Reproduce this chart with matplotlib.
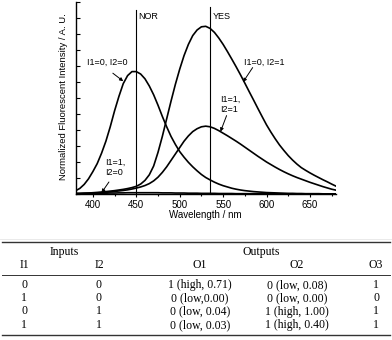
import numpy as np
import matplotlib
matplotlib.use('Agg')
import matplotlib.pyplot as plt
from matplotlib.lines import Line2D
from matplotlib.ticker import MultipleLocator

############################ DATA #########################################
wavelength = list(range(380, 685, 5))
# I1=0, I2=0
curve_00 = [0.020, 0.035, 0.060, 0.095, 0.140, 0.190, 0.255, 0.330, 0.420, 0.520, 0.610, 0.690,
            0.740, 0.765, 0.765, 0.750, 0.720, 0.675, 0.620, 0.555, 0.485, 0.420, 0.360, 0.310,
            0.265, 0.230, 0.198, 0.170, 0.145, 0.122, 0.103, 0.088, 0.074, 0.062, 0.052, 0.044,
            0.036, 0.030, 0.025, 0.021, 0.018, 0.015, 0.013, 0.011, 0.009, 0.008, 0.007, 0.006,
            0.005, 0.004, 0.004, 0.003, 0.003, 0.002, 0.002, 0.002, 0.002, 0.001, 0.001, 0.001,
            0.001]
# I1=0, I2=1
curve_01 = [0.003, 0.004, 0.005, 0.006, 0.008, 0.010, 0.012, 0.015, 0.018, 0.021, 0.025, 0.029,
            0.034, 0.040, 0.048, 0.062, 0.085, 0.120, 0.175, 0.260, 0.360, 0.470, 0.580, 0.685,
            0.780, 0.865, 0.935, 0.990, 1.025, 1.045, 1.048, 1.035, 1.010, 0.975, 0.935, 0.890,
            0.843, 0.795, 0.745, 0.693, 0.640, 0.588, 0.535, 0.483, 0.432, 0.387, 0.345, 0.306,
            0.272, 0.240, 0.212, 0.187, 0.165, 0.148, 0.132, 0.117, 0.103, 0.089, 0.076, 0.062,
            0.049]
# I1=1, I2=1
curve_11 = [0.003, 0.003, 0.004, 0.005, 0.006, 0.007, 0.009, 0.011, 0.013, 0.016, 0.019, 0.022,
            0.026, 0.031, 0.037, 0.044, 0.053, 0.065, 0.082, 0.105, 0.135, 0.170, 0.210, 0.250,
            0.290, 0.330, 0.363, 0.390, 0.408, 0.420, 0.424, 0.420, 0.410, 0.396, 0.380, 0.364,
            0.347, 0.330, 0.312, 0.293, 0.274, 0.255, 0.236, 0.218, 0.200, 0.184, 0.168, 0.153,
            0.139, 0.126, 0.114, 0.103, 0.093, 0.083, 0.073, 0.064, 0.055, 0.046, 0.038, 0.030,
            0.024]
# I1=1, I2=0
curve_10 = [0.002, 0.002, 0.003, 0.003, 0.004, 0.004, 0.005, 0.005, 0.006, 0.006, 0.007, 0.007,
            0.008, 0.008, 0.008, 0.008, 0.008, 0.008, 0.008, 0.008, 0.007, 0.007, 0.007, 0.006,
            0.006, 0.006, 0.005, 0.005, 0.005, 0.004, 0.004, 0.004, 0.004, 0.003, 0.003, 0.003,
            0.003, 0.002, 0.002, 0.002, 0.002, 0.002, 0.002, 0.002, 0.002, 0.001, 0.001, 0.001,
            0.001, 0.001, 0.001, 0.001, 0.001, 0.001, 0.001, 0.001, 0.001, 0.001, 0.001, 0.001,
            0.001]

nor_wl = 450
yes_wl = 535

col_heads = ['I1', 'I2', 'O1', 'O2', 'O3']
table_rows = [['0', '0', '1 (high, 0.71)', '0 (low, 0.08)', '1'],
              ['1', '0', '0 (low,0.00)', '0 (low, 0.00)', '0'],
              ['0', '1', '0 (low, 0.04)', '1 (high, 1.00)', '1'],
              ['1', '1', '0 (low, 0.03)', '1 (high, 0.40)', '1']]
############################ DATA #########################################

W, H = 392, 340
fig = plt.figure(figsize=(W / 100, H / 100), dpi=100)
sans = 'Liberation Sans'
serif = 'Liberation Serif'
fs = 6.5

ax = fig.add_axes([75.5 / W, 1 - 194 / H, 260.5 / W, 192 / H])
for c in [curve_00, curve_01, curve_11, curve_10]:
    ax.plot(wavelength, c, color='k', lw=1.2, solid_joinstyle='round')

ax.plot([nor_wl, nor_wl], [0, 1.15], color='k', lw=0.8)
ax.plot([yes_wl, yes_wl], [0, 1.17], color='k', lw=0.8)
ax.text(452.5, 1.11, 'NOR', fontsize=fs, family=sans, va='center', ha='left')
ax.text(537.5, 1.11, 'YES', fontsize=fs, family=sans, va='center', ha='left')

arw = dict(arrowstyle='-|>', color='k', lw=0.7, mutation_scale=5, shrinkA=0, shrinkB=0)
ax.text(416, 0.825, 'I1=0, I2=0', fontsize=fs, family=sans, ha='center', va='center')
ax.annotate('', xy=(435, 0.705), xytext=(423, 0.755), arrowprops=arw)
ax.text(414.3, 0.166, 'I1=1,\nI2=0', fontsize=fs, family=sans, ha='left', va='center',
        linespacing=1.25)
ax.annotate('', xy=(410, 0.008), xytext=(418.5, 0.075), arrowprops=arw)
ax.text(597, 0.825, 'I1=0, I2=1', fontsize=fs, family=sans, ha='center', va='center')
ax.annotate('', xy=(573, 0.70), xytext=(584, 0.79), arrowprops=arw)
ax.text(547, 0.56, 'I1=1,\nI2=1', fontsize=fs, family=sans, ha='left', va='center',
        linespacing=1.25)
ax.annotate('', xy=(547, 0.39), xytext=(554, 0.49), arrowprops=arw)

ax.set_xlim(380, 680)
ax.set_ylim(0, 1.2)
ax.spines['top'].set_visible(False)
ax.spines['right'].set_visible(False)
for s in ['left', 'bottom']:
    ax.spines[s].set_linewidth(1.0)
ax.xaxis.set_major_locator(MultipleLocator(50))
ax.xaxis.set_minor_locator(MultipleLocator(25))
ax.yaxis.set_major_locator(MultipleLocator(0.1))
ax.tick_params(axis='x', which='major', direction='out', length=2.5, width=0.8, pad=1.5,
               labelsize=7)
ax.tick_params(axis='x', which='minor', direction='out', length=1.5, width=0.8)
ax.tick_params(axis='y', which='major', direction='in', length=3, width=0.8, labelleft=False)
for lab in ax.get_xticklabels():
    lab.set_family(sans)
ax.set_xlabel('Wavelength / nm', fontsize=7, family=sans, labelpad=0.3)
ax.set_ylabel('Normalized Fluorescent Intensity / A. U.', fontsize=6.8, family=sans)
ax.yaxis.set_label_coords(-0.028, 0.505)

# table below the plot
def fy(py):
    return 1 - py / H

fig.add_artist(Line2D([0, 1], [fy(239), fy(239)], color='#e6e6e6', lw=0.6))
fig.add_artist(Line2D([2 / W, 390 / W], [fy(241.5), fy(241.5)], color='#333333', lw=1.0))
fig.add_artist(Line2D([2 / W, 390 / W], [fy(274.5), fy(274.5)], color='#333333', lw=0.7))
fig.add_artist(Line2D([2 / W, 390 / W], [fy(334.5), fy(334.5)], color='#333333', lw=1.0))

col_x = [24, 99, 200, 297, 376]
tfs = 8.5
fig.text(64 / W, fy(251.5), 'Inputs', fontsize=tfs, family=serif, ha='center', va='center')
fig.text(261 / W, fy(251.5), 'Outputs', fontsize=tfs, family=serif, ha='center', va='center')
for x, h in zip(col_x, col_heads):
    fig.text(x / W, fy(265), h, fontsize=tfs, family=serif, ha='center', va='center')
row_y = [285, 298, 311.5, 325]
for y, row in zip(row_y, table_rows):
    for x, v in zip(col_x, row):
        fig.text(x / W, fy(y), v, fontsize=tfs, family=serif, ha='center', va='center')

fig.savefig('out.png', dpi=100)
